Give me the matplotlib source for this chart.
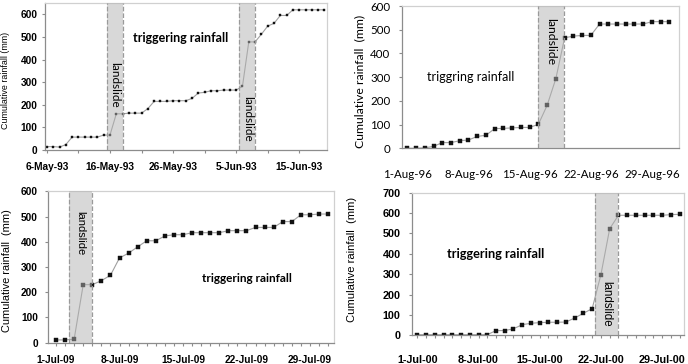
import numpy as np
import matplotlib
matplotlib.use('Agg')
import matplotlib.pyplot as plt
from matplotlib.font_manager import FontProperties

# --- May-Jun 1993 ---
p1_rain = [15, 15, 13, 24, 57, 57, 57, 57, 57, 66, 66, 160, 160, 163, 163, 163, 183,
           215, 215, 215, 218, 218, 218, 228, 252, 255, 262, 262, 265, 265, 265, 282,
           478, 478, 512, 548, 560, 595, 595, 620, 620, 620, 620, 620, 620]
p1_ticks = [0, 10, 20, 30, 40]
p1_labels = ['6-May-93', '16-May-93', '26-May-93', '5-Jun-93', '15-Jun-93']
p1_slides = [(9.6, 12.0), (30.5, 33.0)]

# --- Aug 1996 ---
p2_rain = [0, 0, 2, 8, 24, 24, 32, 35, 50, 55, 83, 84, 86, 88, 88, 101, 181, 294,
           466, 473, 476, 476, 524, 524, 524, 524, 524, 524, 534, 534, 534]
p2_ticks = [0, 7, 14, 21, 28]
p2_labels = ['1-Aug-96', '8-Aug-96', '15-Aug-96', '22-Aug-96', '29-Aug-96']
p2_slides = [(15.0, 17.9)]

# --- Jul 2009 ---
p3_rain = [11, 11, 14, 230, 230, 246, 267, 336, 355, 380, 404, 404, 423, 428, 428,
           436, 436, 436, 436, 444, 444, 444, 457, 457, 457, 480, 480, 507, 507, 510, 510]
p3_ticks = [0, 7, 14, 21, 28]
p3_labels = ['1-Jul-09', '8-Jul-09', '15-Jul-09', '22-Jul-09', '29-Jul-09']
p3_slides = [(1.4, 4.0)]

# --- Jul 2000 ---
p4_rain = [3, 3, 3, 3, 3, 3, 3, 3, 3, 23, 23, 32, 52, 59, 62, 64, 64, 65, 85, 108,
           131, 298, 523, 589, 589, 589, 589, 589, 589, 592, 594]
p4_ticks = [0, 7, 14, 21, 28]
p4_labels = ['1-Jul-00', '8-Jul-00', '15-Jul-00', '22-Jul-00', '29-Jul-00']
p4_slides = [(20.3, 22.9)]


def panel(rect, rain, ticks, labels, slides, xlim, ylim, ystep, minor_step,
          tickfont, ylab, ylab_font, ylab_xy, xpad, ypad, msize):
    ax = fig.add_axes(rect)
    days = np.arange(len(rain))
    ax.plot(days, rain, color='#a0a0a0', lw=0.8, marker='s', ms=msize,
            mfc='#111111', mec='#111111', mew=0.3, zorder=2)
    for a, b in slides:
        ax.axvspan(a, b, color='#b3b3b3', alpha=0.5, lw=0, zorder=3)
        ax.axvline(a, color='#9a9a9a', ls='--', lw=0.9, zorder=4)
        ax.axvline(b, color='#9a9a9a', ls='--', lw=0.9, zorder=4)
    ax.set_xlim(*xlim)
    ax.set_ylim(*ylim)
    ax.set_yticks(np.arange(0, ylim[1] + 1, ystep))
    ax.set_xticks(ticks)
    ax.set_xticklabels(labels)
    ax.set_xticks(np.arange(0, xlim[1], minor_step), minor=True)
    for lab in ax.get_xticklabels() + ax.get_yticklabels():
        lab.set_fontproperties(tickfont)
    ax.tick_params(axis='both', which='both', direction='out', length=2.5,
                   color='#8c8c8c', width=0.8)
    ax.tick_params(axis='x', which='major', pad=xpad)
    ax.tick_params(axis='y', pad=ypad)
    for s in ['left', 'bottom']:
        ax.spines[s].set_color('#8c8c8c')
        ax.spines[s].set_linewidth(0.9)
    for s in ['top', 'right']:
        ax.spines[s].set_color('#d0d0d0')
        ax.spines[s].set_linewidth(0.9)
    ax.set_ylabel(ylab, **ylab_font)
    ax.yaxis.set_label_coords(*ylab_xy)
    return ax


fig = plt.figure(figsize=(6.88, 3.64), dpi=100)

fp_bold = FontProperties(family='Liberation Sans', weight='bold', size=7.3)
fp_bold4 = FontProperties(family='Liberation Sans', weight='bold', size=7.8)
fp_reg2 = FontProperties(family='Lato', size=8.3)

ax1 = panel([0.0654, 0.5879, 0.4099, 0.4038], p1_rain, p1_ticks, p1_labels, p1_slides,
            (-0.3, 44.4), (0, 650), 100, 5, fp_bold,
            'Cumulative rainfall (mm)', dict(family='Liberation Sans', size=6.4),
            (-0.125, 0.47), 6, 3, 1.9)
ax1.text(21.2, 494, 'triggering rainfall', family='Lato', weight='bold', size=9,
         ha='center', va='center')
ax1.text(10.8, 287, 'landslide', family='Lato', size=8.5, rotation=270,
         ha='center', va='center', zorder=5)
ax1.text(31.75, 137, 'landslide', family='Lato', size=8.5, rotation=270,
         ha='center', va='center', zorder=5)

ax2 = panel([0.5848, 0.5926, 0.4022, 0.3909], p2_rain, p2_ticks, p2_labels, p2_slides,
            (-0.57, 31.1), (0, 600), 100, 1, fp_reg2,
            'Cumulative rainfall  (mm)', dict(family='Lato', size=8.8),
            (-0.135, 0.468), 15, 6, 2.7)
ax2.tick_params(axis='x', which='both', length=0)
ax2.text(7.26, 300, 'triggring rainfall', family='Lato', size=9,
         ha='center', va='center')
ax2.text(16.45, 450, 'landslide', family='Lato', size=8.8, rotation=270,
         ha='center', va='center', zorder=5)

ax3 = panel([0.0702, 0.0585, 0.4153, 0.4159], p3_rain, p3_ticks, p3_labels, p3_slides,
            (-0.85, 30.65), (0, 600), 100, 1, fp_bold,
            'Cumulative rainfall  (mm)', dict(family='Liberation Sans', size=7.9),
            (-0.128, 0.474), 6, 5, 2.5)
ax3.text(21.0, 254, 'triggering rainfall', family='Lato', weight='bold', size=8.5,
         ha='center', va='center')
ax3.text(2.7, 435, 'landslide', family='Liberation Sans', size=8, rotation=270,
         ha='center', va='center', zorder=5)

ax4 = panel([0.5993, 0.0789, 0.3949, 0.3918], p4_rain, p4_ticks, p4_labels, p4_slides,
            (-0.57, 30.5), (0, 700), 100, 1, fp_bold4,
            'Cumulative rainfall  (mm)', dict(family='Liberation Sans', size=8.1),
            (-0.204, 0.533), 12, 6, 2.5)
ax4.text(8.96, 400, 'triggering rainfall', family='Lato', weight='bold', size=9.2,
         ha='center', va='center')
ax4.text(21.6, 155, 'landslide', family='Liberation Sans', size=8.3, rotation=270,
         ha='center', va='center', zorder=5)

fig.savefig('out.png', dpi=100)
